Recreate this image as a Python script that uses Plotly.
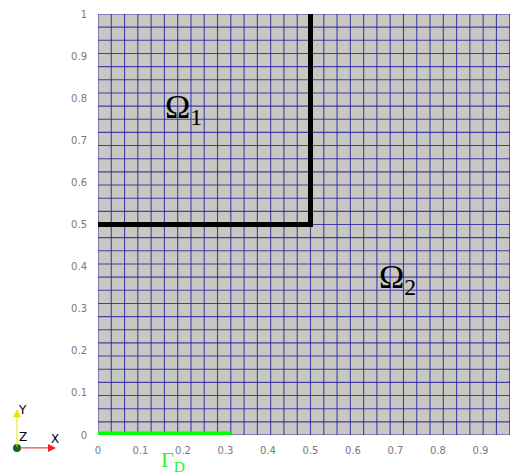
import plotly.graph_objects as go

# ---- data ----
mesh_cells = 32                       # structured mesh, 32 x 32 cells on [0,1]^2
interface_x = [0.0, 0.5, 0.5]          # interface between Omega_1 and Omega_2
interface_y = [0.5, 0.5, 1.0]
gamma_d_x = [0.0, 0.3125]              # Dirichlet boundary segment on y = 0
gamma_d_y = [0.0, 0.0]
x_ticks = [0, 0.1, 0.2, 0.3, 0.4, 0.5, 0.6, 0.7, 0.8, 0.9]
x_tick_labels = ["0", "0.1", "0.2", "0.3", "0.4", "0.5", "0.6", "0.7", "0.8", "0.9"]
y_ticks = [0, 0.1, 0.2, 0.3, 0.4, 0.5, 0.6, 0.7, 0.8, 0.9, 1]
y_tick_labels = ["0", "0.1", "0.2", "0.3", "0.4", "0.5", "0.6", "0.7", "0.8", "0.9", "1"]
region_labels = ["Ω<sub>1</sub>", "Ω<sub>2</sub>"]
region_x = [0.20, 0.705]
region_y = [0.775, 0.37]

# page has an 8px body margin; compensate so the plot lands where the reference has it
OFF = 8
W, H = 518 - OFF, 476 - OFF
PL, PT, pw, ph = 98, 10, 420, 425          # plot area in page pixels
L, T = PL - OFF, PT - OFF
R = W - L - pw
B = H - T - ph
x_max = pw / ph  # square cells; domain cut at the right edge

def px(X):
    return (X - PL) / pw
def py(Y):
    return (PT + ph - Y) / ph

mesh_pos = [i / mesh_cells for i in range(mesh_cells + 1)]

fig = go.Figure()

vx, vy = [], []
for p in mesh_pos:
    vx += [p, p, None]
    vy += [0, 1, None]
fig.add_trace(go.Scatter(x=vx, y=vy, mode="lines",
                         line=dict(color="rgba(30,30,160,0.8)", width=1.1),
                         hoverinfo="skip", showlegend=False))
hx, hy = [], []
for p in mesh_pos:
    hx += [0, 1, None]
    hy += [p, p, None]
fig.add_trace(go.Scatter(x=hx, y=hy, mode="lines",
                         line=dict(color="rgba(30,30,160,0.8)", width=1.1),
                         hoverinfo="skip", showlegend=False))

fig.add_trace(go.Scatter(x=interface_x, y=interface_y, mode="lines",
                         line=dict(color="black", width=5),
                         hoverinfo="skip", showlegend=False))

fig.add_shape(type="line", xref="x", yref="y",
              x0=gamma_d_x[0], x1=gamma_d_x[1], y0=gamma_d_y[0], y1=gamma_d_y[1],
              line=dict(color="#00ff00", width=7), layer="above")

for t, xx, yy in zip(region_labels, region_x, region_y):
    fig.add_annotation(x=xx, y=yy, xref="x", yref="y", text=t, showarrow=False,
                       font=dict(family="Liberation Serif", size=34, color="black"))

fig.add_annotation(x=px(159), y=py(445), xref="paper", yref="paper",
                   text="Γ<sub>D</sub>", showarrow=False, yanchor="top",
                   font=dict(family="Liberation Serif", size=22, color="#33ee33"))

ox, oy = 17, 448
fig.add_annotation(x=px(ox), y=py(409), xref="paper", yref="paper", text="",
                   showarrow=True, ax=0, ay=39, arrowhead=2, arrowsize=1.6,
                   arrowwidth=1, arrowcolor="#e6e600")
fig.add_annotation(x=px(56), y=py(oy), xref="paper", yref="paper", text="",
                   showarrow=True, ax=-39, ay=0, arrowhead=2, arrowsize=1.6,
                   arrowwidth=1, arrowcolor="#ee2020")
fig.add_shape(type="circle", xref="paper", yref="paper", xsizemode="pixel",
              ysizemode="pixel", xanchor=px(ox), yanchor=py(oy),
              x0=-4, x1=4, y0=-4, y1=4, fillcolor="#0b6b1b", line=dict(width=0))
for txt, tx, ty in [("Y", 22, 410), ("Z", 23, 437), ("X", 55, 439)]:
    fig.add_annotation(x=px(tx), y=py(ty), xref="paper", yref="paper", text=txt,
                       showarrow=False, xanchor="center", yanchor="middle",
                       font=dict(family="DejaVu Sans", size=12, color="black"))

fig.update_xaxes(range=[0, x_max], tickvals=x_ticks, ticktext=x_tick_labels,
                 showgrid=False, zeroline=False, showline=False,
                 ticks="outside", ticklen=6, tickcolor="rgba(0,0,0,0)",
                 ticklabeloverflow="allow",
                 tickfont=dict(family="DejaVu Sans", size=10, color="#7a7a7a"))
fig.update_yaxes(range=[0, 1], tickvals=y_ticks, ticktext=y_tick_labels,
                 showgrid=False, zeroline=False, showline=False,
                 ticks="outside", ticklen=8, tickcolor="rgba(0,0,0,0)",
                 ticklabeloverflow="allow",
                 tickfont=dict(family="DejaVu Sans", size=10, color="#7a7a7a"))

fig.update_layout(width=W, height=H, margin=dict(l=L, r=R, t=T, b=B, pad=0),
                  plot_bgcolor="#c9c7c1", paper_bgcolor="white",
                  showlegend=False)

fig.write_html("out.html")
